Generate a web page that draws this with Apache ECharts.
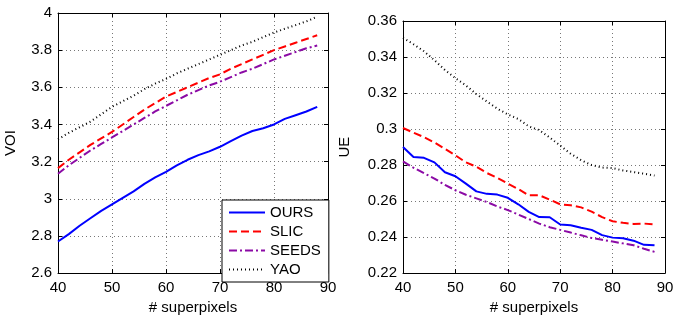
<!DOCTYPE html>
<html><head><meta charset="utf-8">
<script src="https://cdn.jsdelivr.net/npm/echarts@6/dist/echarts.min.js"></script>
<style>html,body{margin:0;padding:0;background:#fff}#c{width:686px;height:320px}</style>
</head><body><div id="c"></div>
<script>
const superpixels = [40,42,44,46,48,50,52,54,56,58,60,62,64,66,68,70,72,74,76,78,80,82,84,86,88];
const seriesNames = ['OURS','SLIC','SEEDS','YAO'];
const voiOURS  = [2.77,2.81,2.855,2.895,2.935,2.97,3.005,3.04,3.08,3.115,3.145,3.18,3.21,3.235,3.255,3.28,3.31,3.34,3.365,3.38,3.40,3.43,3.45,3.47,3.495];
const voiSLIC  = [3.165,3.21,3.25,3.29,3.325,3.36,3.40,3.44,3.48,3.515,3.55,3.575,3.60,3.625,3.65,3.67,3.70,3.725,3.75,3.775,3.80,3.82,3.84,3.86,3.88];
const voiSEEDS = [3.135,3.18,3.22,3.26,3.295,3.33,3.365,3.40,3.435,3.47,3.50,3.53,3.56,3.585,3.61,3.63,3.655,3.68,3.70,3.725,3.75,3.77,3.79,3.81,3.825];
const voiYAO   = [3.32,3.355,3.385,3.415,3.455,3.495,3.525,3.555,3.59,3.62,3.645,3.675,3.70,3.725,3.75,3.775,3.80,3.825,3.845,3.87,3.895,3.915,3.935,3.955,3.98];
const ueOURS  = [0.290,0.2845,0.284,0.2815,0.276,0.2738,0.2697,0.2654,0.264,0.2636,0.2618,0.2582,0.254,0.2511,0.251,0.247,0.2466,0.2452,0.244,0.2411,0.2397,0.2393,0.238,0.2357,0.2354];
const ueSLIC  = [0.3006,0.298,0.2955,0.2925,0.289,0.2854,0.2815,0.2791,0.2756,0.2729,0.2697,0.2667,0.2632,0.2632,0.2608,0.2582,0.2577,0.2565,0.2541,0.2511,0.2488,0.2479,0.2473,0.2475,0.247];
const ueSEEDS = [0.282,0.2785,0.2755,0.2725,0.269,0.266,0.2635,0.2615,0.2595,0.257,0.255,0.2525,0.25,0.2475,0.2455,0.244,0.2425,0.241,0.2395,0.2385,0.2375,0.2365,0.2355,0.2335,0.2318];
const ueYAO   = [0.3507,0.3471,0.3432,0.3382,0.3328,0.3283,0.3242,0.3194,0.3153,0.3113,0.3081,0.3056,0.3015,0.2994,0.2953,0.2908,0.2863,0.2827,0.28,0.2786,0.2783,0.277,0.2761,0.2752,0.2742];
const xTicks = [40,50,60,70,80,90];
const voiTicks = [2.6,2.8,3,3.2,3.4,3.6,3.8,4];
const ueTicks = [0.22,0.24,0.26,0.28,0.30,0.32,0.34,0.36];

const FONT = 'Liberation Sans';
const styles = [
  {color:'#0000ff', type:'solid'},
  {color:'#ff0000', type:[8,4]},
  {color:'#8b0aa5', type:[8,3,2,3]},
  {color:'#000000', type:[1,3]}
];
const pairs = (ys) => superpixels.map((x,i)=>[x, ys[i]]);

function xAxes(gi){
  return [{
    type:'value', gridIndex:gi, min:xTicks[0], max:xTicks[xTicks.length-1], interval:10,
    name:'# superpixels', nameLocation:'middle', nameGap:25,
    nameTextStyle:{fontFamily:FONT, fontSize:15, color:'#000'},
    axisLine:{show:true, onZero:false, lineStyle:{color:'#000', width:1}},
    axisTick:{show:true, inside:true, length:4, lineStyle:{color:'#000'}},
    axisLabel:{fontFamily:FONT, fontSize:15, color:'#000', margin:7},
    splitLine:{show:true, lineStyle:{color:'#777', type:[1,3], width:1}}
  },{
    type:'value', gridIndex:gi, min:xTicks[0], max:xTicks[xTicks.length-1], interval:10, position:'top',
    axisLine:{show:true, onZero:false, lineStyle:{color:'#000'}},
    axisTick:{show:true, inside:true, length:4, lineStyle:{color:'#000'}},
    axisLabel:{show:false}, splitLine:{show:false}
  }];
}
function yAxes(gi, name, ticks, interval, gap, fmt){
  const min = ticks[0], max = ticks[ticks.length-1];
  return [{
    type:'value', gridIndex:gi, min:min, max:max, interval:interval,
    name:name, nameLocation:'middle', nameGap:gap, nameRotate:90,
    nameTextStyle:{fontFamily:FONT, fontSize:15, color:'#000'},
    axisLine:{show:true, onZero:false, lineStyle:{color:'#000', width:1}},
    axisTick:{show:true, inside:true, length:4, lineStyle:{color:'#000'}},
    axisLabel:{fontFamily:FONT, fontSize:15, color:'#000', margin:6, formatter:fmt},
    splitLine:{show:true, lineStyle:{color:'#777', type:[1,3], width:1}}
  },{
    type:'value', gridIndex:gi, min:min, max:max, interval:interval, position:'right',
    axisLine:{show:true, onZero:false, lineStyle:{color:'#000'}},
    axisTick:{show:true, inside:true, length:4, lineStyle:{color:'#000'}},
    axisLabel:{show:false}, splitLine:{show:false}
  }];
}
const voiFmt = v => String(Math.round(v*10)/10);
const ueFmt = v => String(Math.round(v*100)/100);

const voiData = [voiOURS, voiSLIC, voiSEEDS, voiYAO];
const ueData = [ueOURS, ueSLIC, ueSEEDS, ueYAO];
const series = [];
voiData.forEach((d,i)=>series.push({
  name:seriesNames[i], type:'line', xAxisIndex:0, yAxisIndex:0, data:pairs(d),
  showSymbol:false, symbol:'none', smooth:false, animation:false,
  lineStyle:{color:styles[i].color, type:styles[i].type, width:2}, itemStyle:{color:styles[i].color}
}));
ueData.forEach((d,i)=>series.push({
  name:seriesNames[i], type:'line', xAxisIndex:2, yAxisIndex:2, data:pairs(d),
  showSymbol:false, symbol:'none', smooth:false, animation:false,
  lineStyle:{color:styles[i].color, type:styles[i].type, width:2}, itemStyle:{color:styles[i].color}
}));

const chart = echarts.init(document.getElementById('c'), null, {renderer:'canvas'});
chart.setOption({
  backgroundColor:'#fff',
  animation:false,
  grid:[
    {left:58, top:13, width:270, height:270, show:false},
    {left:403, top:21, width:262, height:261, show:false}
  ],
  xAxis:[...xAxes(0), ...xAxes(1)],
  yAxis:[...yAxes(0,'VOI',voiTicks,0.2,40,voiFmt), ...yAxes(1,'UE',ueTicks,0.02,51,ueFmt)],
  legend:{
    show:true, orient:'vertical', left:222, top:200,
    data:seriesNames,
    backgroundColor:'#fff', borderColor:'#000', borderWidth:1,
    padding:[5,8,5,6], itemGap:4, itemWidth:36, itemHeight:14,
    itemStyle:{opacity:0, borderWidth:0},
    textStyle:{fontFamily:FONT, fontSize:15, color:'#000'},
    selectedMode:false
  },
  series:series
});
</script></body></html>
